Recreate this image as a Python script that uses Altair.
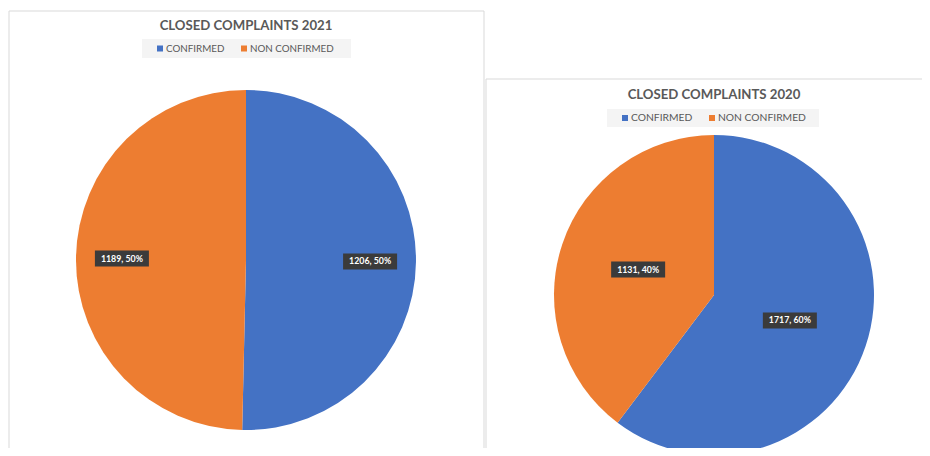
import altair as alt
import pandas as pd

categories = ["CONFIRMED", "NON CONFIRMED"]
values_2021 = [1206, 1189]
values_2020 = [1717, 1131]
titles = ["CLOSED COMPLAINTS 2021", "CLOSED COMPLAINTS 2020"]
colors = ["#4472C4", "#ED7D31"]

W, H = 914, 440
FONT = "Lato"
color_scale = alt.Scale(domain=categories, range=colors)
one = pd.DataFrame({"a": [0]})


def frame(x1, y1, x2, y2):
    return alt.Chart(one).mark_rect(fill="white", stroke="#d9d9d9", strokeWidth=1).encode(
        x=alt.value(x1), x2=alt.value(x2), y=alt.value(y1), y2=alt.value(y2))


def panel(values, title, cx, cy, r, k, ty, lg, fs):
    df = pd.DataFrame({"category": categories, "value": values, "order": [0, 1]})
    base = alt.Chart(df)
    pie = base.mark_arc(radius=r).encode(
        theta=alt.Theta("value:Q", stack=True),
        color=alt.Color("category:N", scale=color_scale, legend=None),
        order=alt.Order("order:Q"),
        x=alt.value(cx), y=alt.value(cy))
    lab = base.transform_joinaggregate(total="sum(value)").transform_window(
        cum="sum(value)", sort=[alt.SortField("order")], frame=[None, 0]
    ).transform_calculate(
        mid="(datum.cum - datum.value/2)/datum.total*2*PI"
    ).transform_calculate(
        lx=f"{cx} + {k * r}*sin(datum.mid)",
        ly=f"{cy} - {k * r}*cos(datum.mid)",
        label="datum.value + ', ' + round(datum.value/datum.total*100) + '%'",
    ).transform_calculate(
        bx1="datum.lx-27", bx2="datum.lx+27", by1="datum.ly-8", by2="datum.ly+8"
    )
    box = lab.mark_rect(color="#3b3b3b").encode(
        x=alt.X("bx1:Q", scale=None), x2="bx2:Q",
        y=alt.Y("by1:Q", scale=None), y2="by2:Q")
    txt = lab.mark_text(color="white", fontWeight="bold", fontSize=8.8, font=FONT).encode(
        x=alt.X("lx:Q", scale=None), y=alt.Y("ly:Q", scale=None), text="label:N")
    ttl = alt.Chart(one).mark_text(text=title, fontSize=13.2, fontWeight="bold",
                                   font=FONT, color="#595959").encode(
        x=alt.value(cx), y=alt.value(ty))
    lx0, ly0, lx1, ly1, sq1, sq2 = lg
    lbg = alt.Chart(one).mark_rect(color="#f4f4f4").encode(
        x=alt.value(lx0), x2=alt.value(lx1), y=alt.value(ly0), y2=alt.value(ly1))
    ym = (ly0 + ly1) / 2
    leg = []
    for i, sx in enumerate([sq1, sq2]):
        leg.append(alt.Chart(one).mark_square(size=36, color=colors[i], opacity=1).encode(
            x=alt.value(sx), y=alt.value(ym)))
        leg.append(alt.Chart(one).mark_text(text=categories[i], fontSize=fs, font=FONT,
                                            color="#595959", align="left").encode(
            x=alt.value(sx + 6), y=alt.value(ym)))
    return [pie, box, txt, ttl, lbg] + leg


layers = [frame(1, 3, 476, 600), frame(478, 71, 940, 600)]
layers += panel(values_2021, titles[0], 238, 252, 170, 0.73, 18,
                (134, 31, 343, 50, 152, 236), 9.8)
layers += panel(values_2020, titles[1], 706, 287, 160, 0.5, 87,
                (599, 101, 811, 119, 617, 704), 10.3)

chart = alt.layer(*layers).resolve_scale(theta="independent").properties(
    width=W, height=H, padding=0, autosize="none"
).configure_view(stroke=None)

chart.save("out.html", embed_options={"renderer": "svg", "actions": False})
